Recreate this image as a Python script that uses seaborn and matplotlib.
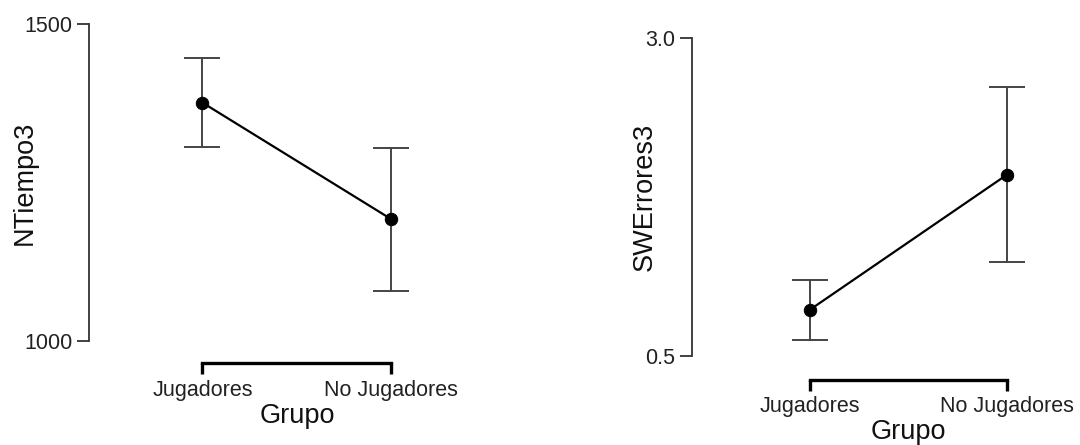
import numpy as np
import pandas as pd
import matplotlib
matplotlib.use("Agg")
import matplotlib.pyplot as plt
import seaborn as sns

sns.set_theme(style="white")
plt.rcParams['font.family'] = ['Liberation Sans', 'DejaVu Sans']

grupos = ["Jugadores", "No Jugadores"]

# NTiempo3 (media e IC 95%)
tiempo_media = [1376, 1192]
tiempo_lo = [1306, 1079]
tiempo_hi = [1446, 1305]

# SWErrores3
errores_media = [0.865, 1.926]
errores_lo = [0.629, 1.239]
errores_hi = [1.10, 2.615]

W, H = 1080, 445
fig = plt.figure(figsize=(W / 100, H / 100), dpi=100)


def panel(rect, media, lo, hi, ylabel, yticks, ylabels, xlim, offset,
          ylab_x, xlab_y):
    ax = fig.add_axes(rect)
    df = pd.DataFrame({"Grupo": grupos, "valor": media})
    pos = np.arange(len(grupos))
    media = np.array(media)
    ax.errorbar(pos, media, yerr=[media - np.array(lo), np.array(hi) - media],
                fmt="none", ecolor="#444444", elinewidth=1.4, capsize=13,
                capthick=1.4, zorder=1)
    sns.lineplot(data=df, x=pos, y="valor", color="black", linewidth=1.6,
                 ax=ax, zorder=2)
    sns.scatterplot(data=df, x=pos, y="valor", color="black", s=80,
                    edgecolor="black", ax=ax, zorder=3)
    ax.set_xlim(*xlim)
    ax.set_ylim(yticks[0], yticks[-1])
    ax.set_yticks(yticks)
    ax.set_yticklabels(ylabels)
    ax.set_xticks(pos)
    ax.set_xticklabels(grupos)
    for s in ["top", "right"]:
        ax.spines[s].set_visible(False)
    ax.spines["left"].set_bounds(yticks[0], yticks[-1])
    ax.spines["left"].set_color("#333333")
    ax.spines["left"].set_linewidth(1.3)
    ax.spines["bottom"].set_bounds(0, 1)
    ax.spines["bottom"].set_position(("outward", offset))
    ax.spines["bottom"].set_color("black")
    ax.spines["bottom"].set_linewidth(2.4)
    ax.tick_params(axis="y", direction="out", length=9, width=1.3,
                   color="#333333", labelsize=15.5, labelcolor="#222222",
                   pad=3, left=True)
    ax.tick_params(axis="x", direction="out", length=8, width=2.4,
                   color="black", labelsize=15.5, labelcolor="#222222",
                   pad=4, bottom=True)
    ax.set_xlabel("Grupo", fontsize=19.5, color="#111111")
    ax.set_ylabel(ylabel, fontsize=19.5, color="#111111")
    # labels centred on the categories, like the original
    xmid = (0.5 - xlim[0]) / (xlim[1] - xlim[0])
    ax.xaxis.set_label_coords(xmid, xlab_y)
    ax.yaxis.set_label_coords(ylab_x, 0.5)
    ax.set_facecolor("white")
    return ax


# left panel: spine at x=89, y from 24 to 341 px
panel([89 / W, (H - 341) / H, 378 / W, 317 / H],
      tiempo_media, tiempo_lo, tiempo_hi, "NTiempo3",
      [1000, 1500], ["1000", "1500"], (-0.6, 1.4), 16,
      (38 - 89) / 378, (341 - 403) / 317)

# right panel: spine at x=692, y from 38 to 356 px
panel([692 / W, (H - 356) / H, 384 / W, 318 / H],
      errores_media, errores_lo, errores_hi, "SWErrores3",
      [0.5, 3.0], ["0.5", "3.0"], (-0.6, 1.35), 17,
      (658 - 692) / 384, (356 - 419) / 318)

fig.savefig("out.png", dpi=100, facecolor="white")
